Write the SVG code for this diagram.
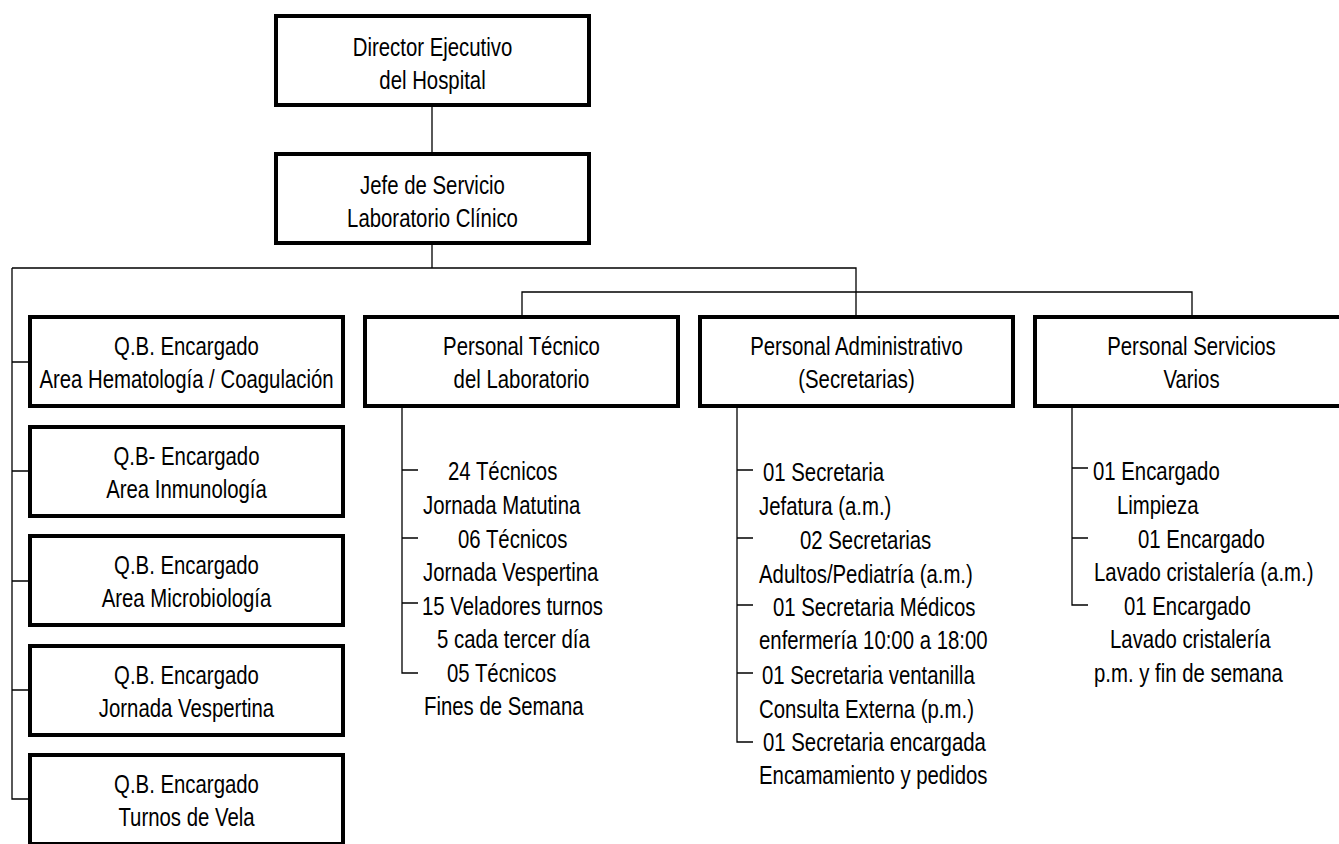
<svg xmlns="http://www.w3.org/2000/svg" width="1339" height="844" viewBox="0 0 1339 844">
<style>
.box{fill:#fff;stroke:#000;stroke-width:4}
.ln{fill:none;stroke:#000;stroke-width:1.3}
text{font-family:"Liberation Sans",Arial,sans-serif;font-size:26px;fill:#000}
.c{text-anchor:middle}
</style>
<rect width="1339" height="844" fill="#fff"/>
<g id="connectors">
<path class="ln" d="M432 107V152M432 245V268M12 268H856V315M522 315V292H1192V315M12 268V799H28M12 362H28M12 471H28M12 581H28M12 690H28"/>
<path class="ln" d="M402 408V673H418M402 470H418M402 538H418M402 603H418"/>
<path class="ln" d="M737 408V742H753M737 470H753M737 538H753M737 605H753M737 673H753"/>
<path class="ln" d="M1072 408V605H1088M1072 468H1088M1072 538H1088"/>
</g>
<g id="director"><rect class="box" x="276" y="16" width="313" height="89"/>
<text class="c" transform="translate(432.5,0) scale(0.783,1)"><tspan x="0" y="56">Director Ejecutivo</tspan><tspan x="0" y="89">del Hospital</tspan></text></g>
<g id="jefe"><rect class="box" x="276" y="154" width="313" height="89"/>
<text class="c" transform="translate(432.5,0) scale(0.783,1)"><tspan x="0" y="194">Jefe de Servicio</tspan><tspan x="0" y="227">Laboratorio Clínico</tspan></text></g>
<g id="qb1"><rect class="box" x="30" y="317" width="313" height="89"/>
<text class="c" transform="translate(186.5,0) scale(0.783,1)"><tspan x="0" y="355">Q.B. Encargado</tspan><tspan x="0" y="388">Area Hematología / Coagulación</tspan></text></g>
<g id="qb2"><rect class="box" x="30" y="427" width="313" height="89"/>
<text class="c" transform="translate(186.5,0) scale(0.783,1)"><tspan x="0" y="465">Q.B- Encargado</tspan><tspan x="0" y="498">Area Inmunología</tspan></text></g>
<g id="qb3"><rect class="box" x="30" y="536" width="313" height="89"/>
<text class="c" transform="translate(186.5,0) scale(0.783,1)"><tspan x="0" y="574">Q.B. Encargado</tspan><tspan x="0" y="607">Area Microbiología</tspan></text></g>
<g id="qb4"><rect class="box" x="30" y="646" width="313" height="89"/>
<text class="c" transform="translate(186.5,0) scale(0.783,1)"><tspan x="0" y="684">Q.B. Encargado</tspan><tspan x="0" y="717">Jornada Vespertina</tspan></text></g>
<g id="qb5"><rect class="box" x="30" y="755" width="313" height="89"/>
<text class="c" transform="translate(186.5,0) scale(0.783,1)"><tspan x="0" y="793">Q.B. Encargado</tspan><tspan x="0" y="826">Turnos de Vela</tspan></text></g>
<g id="tecnico"><rect class="box" x="365" y="317" width="313" height="89"/>
<text class="c" transform="translate(521.5,0) scale(0.783,1)"><tspan x="0" y="355">Personal Técnico</tspan><tspan x="0" y="388">del Laboratorio</tspan></text></g>
<g id="administrativo"><rect class="box" x="700" y="317" width="313" height="89"/>
<text class="c" transform="translate(856.5,0) scale(0.783,1)"><tspan x="0" y="355">Personal Administrativo</tspan><tspan x="0" y="388">(Secretarias)</tspan></text></g>
<g id="servicios"><rect class="box" x="1035" y="317" width="313" height="89"/>
<text class="c" transform="translate(1191.5,0) scale(0.783,1)"><tspan x="0" y="355">Personal Servicios</tspan><tspan x="0" y="388">Varios</tspan></text></g>
<g id="tecnico-list">
<text transform="translate(448,480) scale(0.783,1)">24 Técnicos</text>
<text transform="translate(423,514) scale(0.783,1)">Jornada Matutina</text>
<text transform="translate(458,548) scale(0.783,1)">06 Técnicos</text>
<text transform="translate(423,581) scale(0.783,1)">Jornada Vespertina</text>
<text transform="translate(422,615) scale(0.783,1)">15 Veladores turnos</text>
<text transform="translate(437,648) scale(0.783,1)">5 cada tercer día</text>
<text transform="translate(447,682) scale(0.783,1)">05 Técnicos</text>
<text transform="translate(424,715) scale(0.783,1)">Fines de Semana</text>
</g>
<g id="administrativo-list">
<text transform="translate(763,481) scale(0.783,1)">01 Secretaria</text>
<text transform="translate(759,515) scale(0.783,1)">Jefatura (a.m.)</text>
<text transform="translate(800,549) scale(0.783,1)">02 Secretarias</text>
<text transform="translate(759,583) scale(0.783,1)">Adultos/Pediatría (a.m.)</text>
<text transform="translate(773,616) scale(0.783,1)">01 Secretaria Médicos</text>
<text transform="translate(759,649) scale(0.783,1)">enfermería 10:00 a 18:00</text>
<text transform="translate(762,684) scale(0.783,1)">01 Secretaria ventanilla</text>
<text transform="translate(759,718) scale(0.783,1)">Consulta Externa (p.m.)</text>
<text transform="translate(763,751) scale(0.783,1)">01 Secretaria encargada</text>
<text transform="translate(759,784) scale(0.783,1)">Encamamiento y pedidos</text>
</g>
<g id="servicios-list">
<text transform="translate(1093,480) scale(0.783,1)">01 Encargado</text>
<text transform="translate(1117,514) scale(0.783,1)">Limpieza</text>
<text transform="translate(1138,548) scale(0.783,1)">01 Encargado</text>
<text transform="translate(1094,581) scale(0.783,1)">Lavado cristalería (a.m.)</text>
<text transform="translate(1124,615) scale(0.783,1)">01 Encargado</text>
<text transform="translate(1110,648) scale(0.783,1)">Lavado cristalería</text>
<text transform="translate(1094,682) scale(0.783,1)">p.m. y fin de semana</text>
</g>
</svg>
